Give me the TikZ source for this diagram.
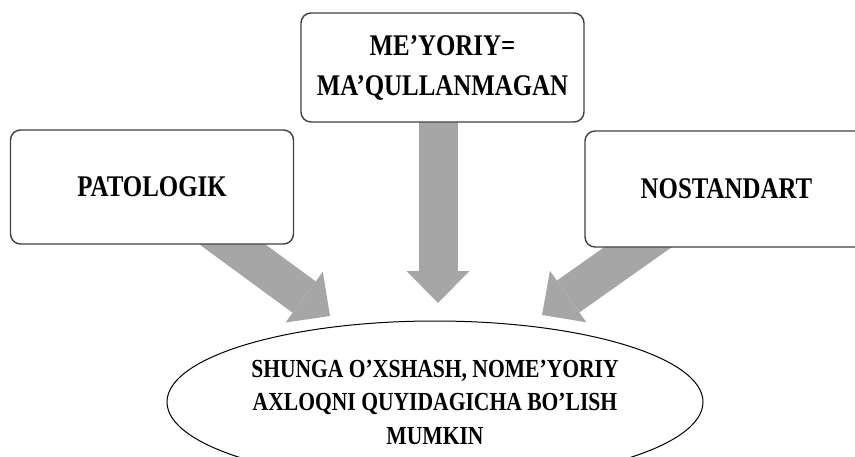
\documentclass[tikz,border=0pt]{standalone}
\usepackage{fontspec}
\newfontfamily\capfont{Liberation Serif}[FakeStretch=0.83]
\usetikzlibrary{positioning,calc,arrows.meta,shapes.geometric,backgrounds}
\definecolor{arrowgray}{RGB}{166,166,166}
\definecolor{edgegray}{RGB}{64,64,64}
\newcommand*{\boxfont}{\fontsize{30}{40}\selectfont\capfont\bfseries}
\newcommand*{\ovalfont}{\fontsize{26}{33.5}\selectfont\capfont\bfseries}

\begin{document}
\begin{tikzpicture}[x=1pt,y=-1pt,
  kind/.style={draw=edgegray,line width=1.4pt,rounded corners=10pt,fill=white,
    minimum width=283pt,inner sep=0pt,align=center,font=\boxfont},
  outcome/.style={draw,ellipse,line width=1pt,fill=white,minimum width=536pt,
    minimum height=162pt,inner sep=0pt,align=center,font=\ovalfont},
  flow/.style={arrowgray,line width=39pt,shorten <=-30pt,
    -{Triangle[length=32pt,width=63pt,line width=0pt]}}]
\useasboundingbox (0,0) rectangle (855,456);
\clip (0,0) rectangle (855,456);
% The three kinds
\node[kind,minimum height=109pt] (meyoriy) at (442.5,67.5) {ME’YORIY=\\MA’QULLANMAGAN};
\node[kind,minimum height=114pt] (patologik) at (152,187) {PATOLOGIK};
\node[kind,minimum height=116pt] (nostandart) at (726.5,189) {NOSTANDART};
% The oval they point to
\node[outcome] (axloq) at (435,402)
  {SHUNGA O’XSHASH, NOME’YORIY\\AXLOQNI QUYIDAGICHA BO’LISH\\MUMKIN};
% Arrow tips just above the oval
\coordinate (tipL) at (330,316);
\coordinate (tipM) at (438,303);
\coordinate (tipR) at (542,315);
% Block arrows go behind the boxes
\begin{scope}[on background layer]
\draw[flow] ($(patologik.south west)!.784!(patologik.south east)$) -- (tipL);
\draw[flow] (tipM |- meyoriy.south) -- (tipM);
\draw[flow] ($(nostandart.south west)!.186!(nostandart.south east)$) -- (tipR);
\end{scope}
\end{tikzpicture}
\end{document}
